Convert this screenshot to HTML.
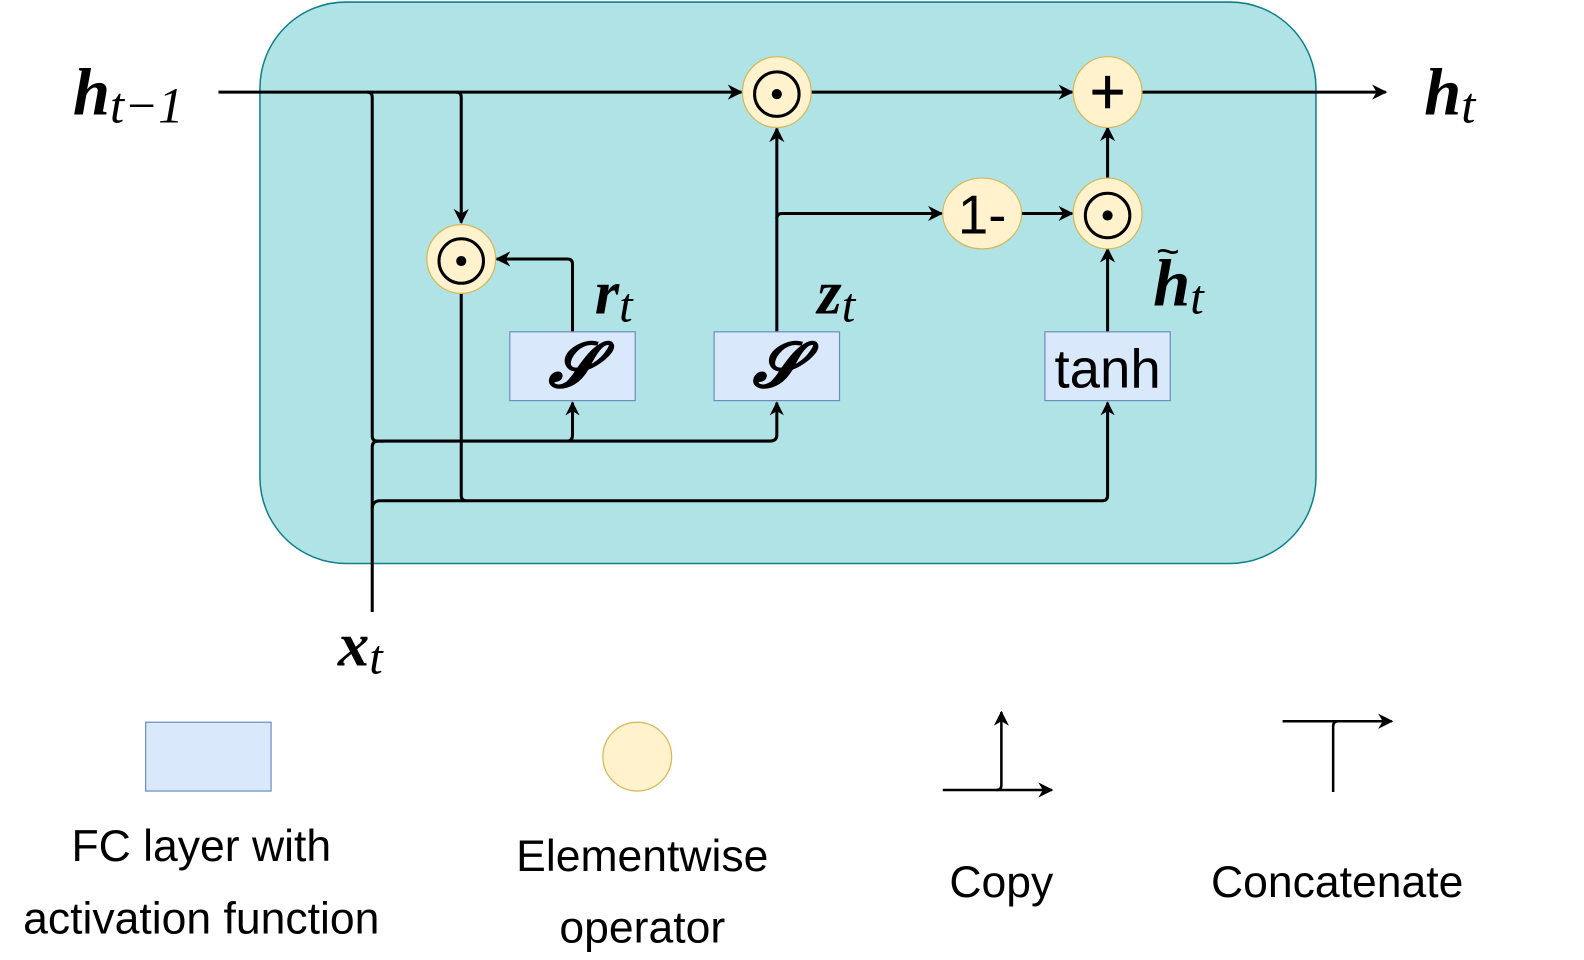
<!DOCTYPE html>
<html><head><meta charset="utf-8"><style>
html,body{margin:0;padding:0;background:#fff;}
svg{display:block;}
.m{font-family:"Liberation Serif",serif;font-style:italic;font-weight:bold;fill:#000;}
.s{font-family:"Liberation Sans",sans-serif;fill:#000;}
</style></head><body>
<svg width="1584" height="960" viewBox="0 0 1566 949" xmlns="http://www.w3.org/2000/svg">
<defs>
<marker id="a" viewBox="0 0 10 10" refX="9" refY="5" markerWidth="14" markerHeight="14" markerUnits="userSpaceOnUse" orient="auto">
<path d="M0,0 L10,5 L0,10 L3,5 z" fill="#000"/></marker>
<marker id="b" viewBox="0 0 10 10" refX="9" refY="5" markerWidth="15" markerHeight="15" markerUnits="userSpaceOnUse" orient="auto">
<path d="M0,0 L10,5 L0,10 L3,5 z" fill="#000"/></marker>
</defs>
<rect x="257" y="2" width="1044" height="555" rx="85" fill="#b0e3e6" stroke="#0e8088" stroke-width="1.5"/>
<g fill="none" stroke="#000" stroke-width="3">
<path d="M216,91 H733" marker-end="url(#b)"/>
<path d="M802,91 H1060" marker-end="url(#b)"/>
<path d="M1129,91 H1370" marker-end="url(#b)"/>
<path d="M363,91 Q368,91 368,96 V431 Q368,436 373,436 H761 Q768,436 768,430 V398" marker-end="url(#a)"/>
<path d="M561,436 Q566,436 566,430 V398" marker-end="url(#a)"/>
<path d="M451,91 Q456,91 456,96 V220" marker-end="url(#b)"/>
<path d="M566,328 V261 Q566,256 561,256 H491" marker-end="url(#b)"/>
<path d="M768,328 V127" marker-end="url(#b)"/>
<path d="M768,216 Q768,211 773,211 H931" marker-end="url(#b)"/>
<path d="M1010,211 H1060" marker-end="url(#b)"/>
<path d="M1095,177 V126" marker-end="url(#b)"/>
<path d="M1095,328 V246" marker-end="url(#b)"/>
<path d="M456,290 V490 Q456,495 461,495 H1090 Q1095,495 1095,490 V398" marker-end="url(#a)"/>
<path d="M368,605 V442 Q368,436 374,436 H380"/>
<path d="M368,503 Q368,495 376,495 H460"/>
</g>
<g stroke="#d6b656" stroke-width="1.2" fill="#fff2cc">
<ellipse cx="456" cy="256" rx="34" ry="34"/>
<ellipse cx="768" cy="91" rx="34" ry="35"/>
<ellipse cx="1095" cy="91" rx="34" ry="35"/>
<ellipse cx="1095" cy="211" rx="34" ry="35"/>
<ellipse cx="971" cy="211" rx="39" ry="35"/>
<ellipse cx="630" cy="748" rx="34" ry="34"/>
</g>
<g fill="none" stroke="#000" stroke-width="3">
<circle cx="456" cy="258" r="22"/><circle cx="768" cy="93" r="22"/><circle cx="1095" cy="213" r="22"/>
</g>
<g fill="#000"><circle cx="456" cy="258" r="5"/><circle cx="768" cy="93" r="5"/><circle cx="1095" cy="213" r="5"/></g>
<path d="M1095,75 V107 M1080,91 H1110" stroke="#000" stroke-width="5"/>
<text x="971" y="231" class="s" font-size="54" text-anchor="middle">1-</text>
<g fill="#dae8fc" stroke="#6c8ebf" stroke-width="1.2">
<rect x="504" y="328" width="124" height="68"/>
<rect x="706" y="328" width="124" height="68"/>
<rect x="1033" y="328" width="124" height="68"/>
<rect x="144" y="714" width="124" height="68"/>
</g>
<text x="566" y="382" class="m" font-size="62" text-anchor="middle">𝓢</text>
<text x="768" y="382" class="m" font-size="62" text-anchor="middle">𝓢</text>
<text x="1095" y="383" class="s" font-size="54" text-anchor="middle">tanh</text>
<text x="72" y="113" class="m" font-size="66">h<tspan font-size="50" dy="8" font-weight="normal">t−1</tspan></text>
<text x="1408" y="113" class="m" font-size="66">h<tspan font-size="50" dy="8" font-weight="normal">t</tspan></text>
<text x="588" y="310" class="m" font-size="62">r<tspan font-size="48" dy="8" font-weight="normal">t</tspan></text>
<text x="808" y="310" class="m" font-size="62">z<tspan font-size="48" dy="8" font-weight="normal">t</tspan></text>
<text x="1140" y="302" class="m" font-size="66">h<tspan font-size="48" dy="8" font-weight="normal">t</tspan></text>
<text x="1143" y="262" class="s" font-size="40">~</text>
<text x="334" y="658" class="m" font-size="62">x<tspan font-size="48" dy="8" font-weight="normal">t</tspan></text>
<g fill="none" stroke="#000" stroke-width="2.5">
<path d="M932,781 H1040" marker-end="url(#b)"/>
<path d="M985,781 Q990,781 990,776 V704" marker-end="url(#b)"/>
<path d="M1268,713 H1376" marker-end="url(#b)"/>
<path d="M1318,783 V718 Q1318,713 1323,713"/>
</g>
<g class="s" font-size="44" text-anchor="middle">
<text x="199" y="851">FC layer with</text>
<text x="199" y="923">activation function</text>
<text x="635" y="861">Elementwise</text>
<text x="635" y="932">operator</text>
<text x="990" y="887">Copy</text>
<text x="1322" y="887">Concatenate</text>
</g>
</svg>
</body></html>
